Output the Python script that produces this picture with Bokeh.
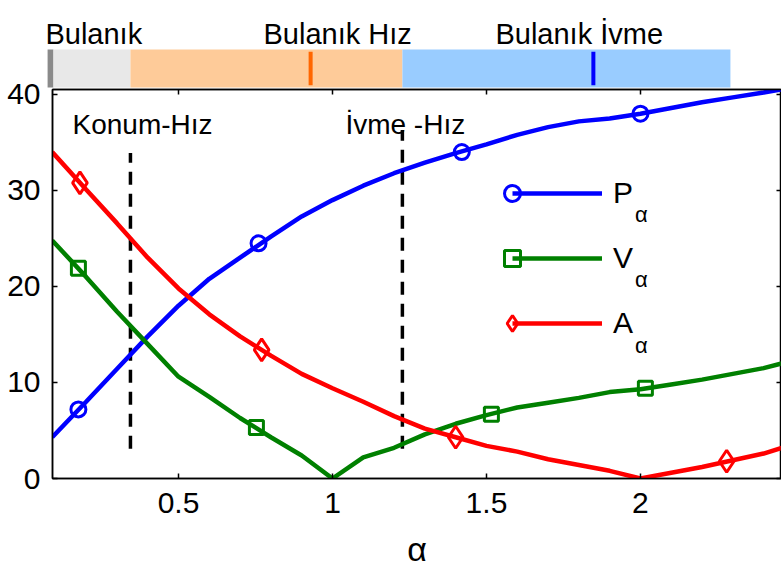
from bokeh.plotting import figure
from bokeh.models import (Range1d, LinearAxis, FixedTicker, NumeralTickFormatter,
                          Legend, LegendItem, Label)
from bokeh.layouts import column
from bokeh.embed import file_html
from bokeh.resources import INLINE
from bokeh.core.properties import value

FONT = "Liberation Sans"

# ---- data -------------------------------------------------------------
alpha = [0.09, 0.2, 0.3, 0.4, 0.5, 0.6, 0.7, 0.8, 0.9, 1.0, 1.1, 1.2, 1.3,
         1.4, 1.5, 1.6, 1.7, 1.8, 1.9, 2.0, 2.1, 2.2, 2.3, 2.4, 2.46]
P_alpha = [4.3, 8.0, 11.4, 14.8, 18.0, 20.8, 23.0, 25.2, 27.3, 29.0, 30.5, 31.8, 32.9,
           33.9, 34.8, 35.8, 36.6, 37.2, 37.5, 38.0, 38.6, 39.2, 39.7, 40.2, 40.55]
V_alpha = [24.8, 21.0, 17.4, 14.0, 10.6, 8.5, 6.3, 4.3, 2.4, 0.0, 2.2, 3.2, 4.6,
           5.7, 6.6, 7.4, 7.9, 8.4, 9.0, 9.3, 9.8, 10.3, 10.9, 11.5, 12.0]
A_alpha = [34.0, 30.1, 26.6, 23.0, 19.8, 17.1, 14.8, 12.8, 10.9, 9.4, 8.0, 6.5, 5.2,
           4.3, 3.4, 2.8, 2.0, 1.4, 0.8, 0.0, 0.6, 1.2, 1.9, 2.6, 3.2]

# marker positions along each curve
P_mark_x = [0.175, 0.76, 1.42, 2.0]
P_mark_y = [7.2, 24.5, 34.0, 38.0]
V_mark_x = [0.175, 0.753, 1.516, 2.016]
V_mark_y = [21.9, 5.3, 6.7, 9.4]
A_mark_x = [0.18, 0.77, 1.40, 2.28]
A_mark_y = [30.8, 13.4, 4.3, 1.8]

# region boundaries (dashed lines) and their vertical extent
boundary_x = [0.344, 1.227]
boundary_y0 = [3.1, 3.1]
boundary_y1 = [33.9, 36.3]
region_names = ["Konum-Hız", "İvme -Hız"]
region_name_x = [0.156, 1.042]
region_name_y = [36.9, 36.9]

# fuzzy bands above the chart
band_left = [0.075, 0.094, 0.344, 1.227]
band_right = [0.094, 0.344, 1.227, 2.292]
band_colors = ["#8a8a8a", "#e8e8e8", "#fecb99", "#99ccff"]
band_peak_x = [0.929, 1.847]
band_peak_colors = ["#ff6600", "#0000ff"]
band_titles = ["Bulanık", "Bulanık Hız", "Bulanık İvme"]
band_title_x = [0.068, 0.776, 1.529]

x_ticks = [0.5, 1, 1.5, 2]
y_ticks = [0, 10, 20, 30, 40]

BLUE, GREEN, RED = "#0000ff", "#008000", "#ff0000"

# ---- band strip -------------------------------------------------------
top = figure(width=781, height=88, x_range=Range1d(-0.0779, 2.4578),
             y_range=Range1d(-0.026, 2.29), output_backend="svg",
             toolbar_location=None, x_axis_location=None, y_axis_location=None,
             min_border=0, frame_align=False, margin=(0, 0, -12, 0))
top.grid.visible = False
top.outline_line_color = None
top.border_fill_alpha = 0
top.background_fill_alpha = 0
top.quad(left=band_left, right=band_right, bottom=0, top=1,
         fill_color=band_colors, line_color=None)
top.segment(x0=band_peak_x, y0=0.06, x1=band_peak_x, y1=0.94,
            line_color=band_peak_colors, line_width=4)
top.text(x=band_title_x, y=[1.42] * 3, text=band_titles,
         text_font=value(FONT), text_font_size="29px",
         text_baseline="alphabetic", text_align="left", text_color="black")

# ---- main chart -------------------------------------------------------
p = figure(width=781, height=502, x_range=Range1d(0.0909, 2.458),
           y_range=Range1d(0, 40.52), output_backend="svg", toolbar_location=None,
           min_border_left=52, min_border_right=0, min_border_top=13,
           min_border_bottom=100, frame_align=False)
p.grid.visible = False
p.outline_line_color = "black"
p.outline_line_width = 1.5
p.border_fill_alpha = 0
p.background_fill_color = "white"

for ax in (p.xaxis[0], p.yaxis[0]):
    ax.major_tick_in = 5
    ax.major_tick_out = 0
    ax.minor_tick_line_color = None
    ax.major_tick_line_width = 1.5
    ax.axis_line_width = 1.5
    ax.axis_line_color = "black"
    ax.major_tick_line_color = "black"
    ax.major_label_text_font = FONT
    ax.major_label_text_font_size = "30px"
    ax.major_label_text_color = "black"

p.xaxis.ticker = FixedTicker(ticks=x_ticks)
p.xaxis.formatter = NumeralTickFormatter(format="0.[0]")
p.xaxis.major_label_standoff = 14
p.xaxis.axis_label = "α"
p.xaxis.axis_label_text_font = FONT
p.xaxis.axis_label_text_font_size = "34px"
p.xaxis.axis_label_text_font_style = "normal"
p.xaxis.axis_label_text_color = "black"
p.xaxis.axis_label_standoff = 14

p.yaxis.ticker = FixedTicker(ticks=y_ticks)
p.yaxis.major_label_standoff = 12

# mirrored tick marks on the top and right edges
for side, ticks in (("above", x_ticks), ("right", y_ticks)):
    ax = LinearAxis(ticker=FixedTicker(ticks=ticks), major_tick_in=5, major_tick_out=0,
                    minor_tick_line_color=None, major_tick_line_width=1.5,
                    major_label_text_font_size="0px", major_label_standoff=0,
                    axis_line_width=1.5)
    p.add_layout(ax, side)

# boundaries between regions
p.segment(x0=boundary_x, y0=boundary_y0, x1=boundary_x, y1=boundary_y1,
          line_color="black", line_width=3.5, line_dash="13 9")
p.text(x=region_name_x, y=region_name_y, text=region_names,
       text_font=value(FONT), text_font_size="28px", text_baseline="alphabetic",
       text_align="left", text_color="black")

# curves
lP = p.line(alpha, P_alpha, line_color=BLUE, line_width=4.5)
lV = p.line(alpha, V_alpha, line_color=GREEN, line_width=4.5)
lA = p.line(alpha, A_alpha, line_color=RED, line_width=4.5)
mP = p.scatter(P_mark_x, P_mark_y, marker="circle", size=15, fill_color=None,
               line_color=BLUE, line_width=3)
mV = p.scatter(V_mark_x, V_mark_y, marker="square", size=14, fill_color=None,
               line_color=GREEN, line_width=3)
mA = p.scatter(A_mark_x, A_mark_y, marker="diamond", size=22, fill_color=None,
               line_color=RED, line_width=3)

# legend: markers at the left end of each key line
common = dict(glyph_height=40, label_height=40, spacing=25, padding=0, margin=0,
              border_line_color=None, background_fill_alpha=0,
              label_text_font=FONT, label_text_font_size="30px",
              label_text_color="black")
leg_lines = Legend(items=[LegendItem(label=value("P"), renderers=[lP]),
                          LegendItem(label=value("V"), renderers=[lV]),
                          LegendItem(label=value("A"), renderers=[lA])],
                   location=(460, 135), glyph_width=90, label_standoff=11, **common)
leg_marks = Legend(items=[LegendItem(label=value(" "), renderers=[mP]),
                          LegendItem(label=value(" "), renderers=[mV]),
                          LegendItem(label=value(" "), renderers=[mA])],
                   location=(440, 135), glyph_width=40, label_standoff=0, **common)
p.add_layout(leg_lines)
p.add_layout(leg_marks)

# alpha subscripts of the legend labels
for yy in (27.5, 20.7, 13.9):
    p.add_layout(Label(x=2.003, y=yy, text="α", text_font=FONT,
                       text_font_size="22px", text_align="center",
                       text_baseline="middle", text_color="black"))

layout = column(top, p, spacing=0)
open("out.html", "w").write(file_html(layout, INLINE))
